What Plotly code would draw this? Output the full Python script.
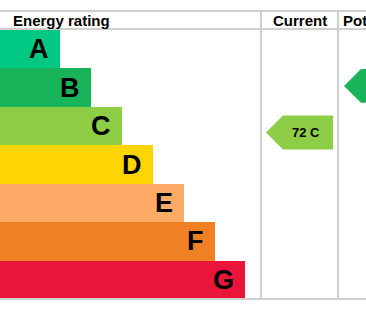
import plotly.graph_objects as go

# ---- data ----
ratings = ["A", "B", "C", "D", "E", "F", "G"]
bar_lengths = [60, 91, 122, 153, 184, 215, 245]
colors = ["#00c781", "#19b459", "#8dce46", "#ffd500", "#fcaa65", "#ef8023", "#e9153b"]
band_low = [92, 81, 69, 55, 39, 21, 1]
band_high = [100, 91, 80, 68, 54, 38, 20]
current_score, current_rating = 72, "C"
potential_score, potential_rating = 86, "B"
headers = ["Energy rating", "Current", "Potential"]

W, H = 366, 311
top_y, head_y, bottom_y = 11, 29, 299
col1, col2 = 261, 338

def score_pos(score, rating):
    i = ratings.index(rating)
    width = band_high[i] - band_low[i] + 1
    return i - 0.5 + (band_high[i] - score) / width

fig = go.Figure()
idx = list(range(len(ratings)))
fig.add_trace(go.Bar(
    x=bar_lengths, y=idx, orientation="h", width=1,
    marker=dict(color=colors, line=dict(width=0)),
    hoverinfo="skip", showlegend=False,
))

def arrow(score, rating, left, right, label):
    c = score_pos(score, rating)
    h = 0.44
    tip = 17
    xs = [left, left + tip, right, right, left + tip, left]
    ys = [c, c - h, c - h, c + h, c + h, c]
    fig.add_trace(go.Scatter(
        x=xs, y=ys, mode="lines", fill="toself",
        fillcolor=colors[ratings.index(rating)], line=dict(width=0),
        hoverinfo="skip", showlegend=False,
    ))
    fig.add_annotation(x=(left + tip + right) / 2 - 2, y=c, text=label,
                       showarrow=False, xanchor="center", yanchor="middle",
                       font=dict(family="Liberation Sans", size=13, color="black", weight="bold"))

arrow(current_score, current_rating, 266, 333, f"{current_score} {current_rating}")
arrow(potential_score, potential_rating, 344, 410, f"{potential_score} {potential_rating}")

for i, r in enumerate(ratings):
    fig.add_annotation(x=bar_lengths[i], y=i, text=r, showarrow=False,
                       xanchor="right", yanchor="middle", xshift=-9,
                       font=dict(family="Liberation Sans", size=27, color="black", weight="bold"))

# table frame lines (pixel -> paper)
def py(p):
    return 1 - p / H

line = dict(color="#cfcfcf", width=2)
for yy in [top_y, head_y, bottom_y]:
    fig.add_shape(type="line", xref="paper", yref="paper", x0=0, x1=1, y0=py(yy), y1=py(yy), line=line)
for xx in [col1, col2]:
    fig.add_shape(type="line", xref="paper", yref="paper", x0=xx / W, x1=xx / W,
                  y0=py(top_y), y1=py(bottom_y), line=line)

hfont = dict(family="Liberation Sans", size=15, color="black", weight="bold")
fig.add_annotation(xref="paper", yref="paper", x=11 / W, y=py(20), text=headers[0],
                   showarrow=False, xanchor="left", yanchor="middle", font=hfont)
fig.add_annotation(xref="paper", yref="paper", x=(col1 + col2) / 2 / W, y=py(20), text=headers[1],
                   showarrow=False, xanchor="center", yanchor="middle", font=hfont)
fig.add_annotation(xref="paper", yref="paper", x=341 / W, y=py(20), text=headers[2],
                   showarrow=False, xanchor="left", yanchor="middle", font=hfont)

fig.update_layout(
    width=W, height=H, margin=dict(l=0, r=0, t=0, b=0),
    paper_bgcolor="white", plot_bgcolor="white", bargap=0,
    xaxis=dict(range=[0, W], visible=False, fixedrange=True),
    yaxis=dict(range=[len(ratings) - 0.5, -0.5], visible=False,
               domain=[py(bottom_y), py(head_y + 1)], fixedrange=True),
)
fig.write_html("out.html")
